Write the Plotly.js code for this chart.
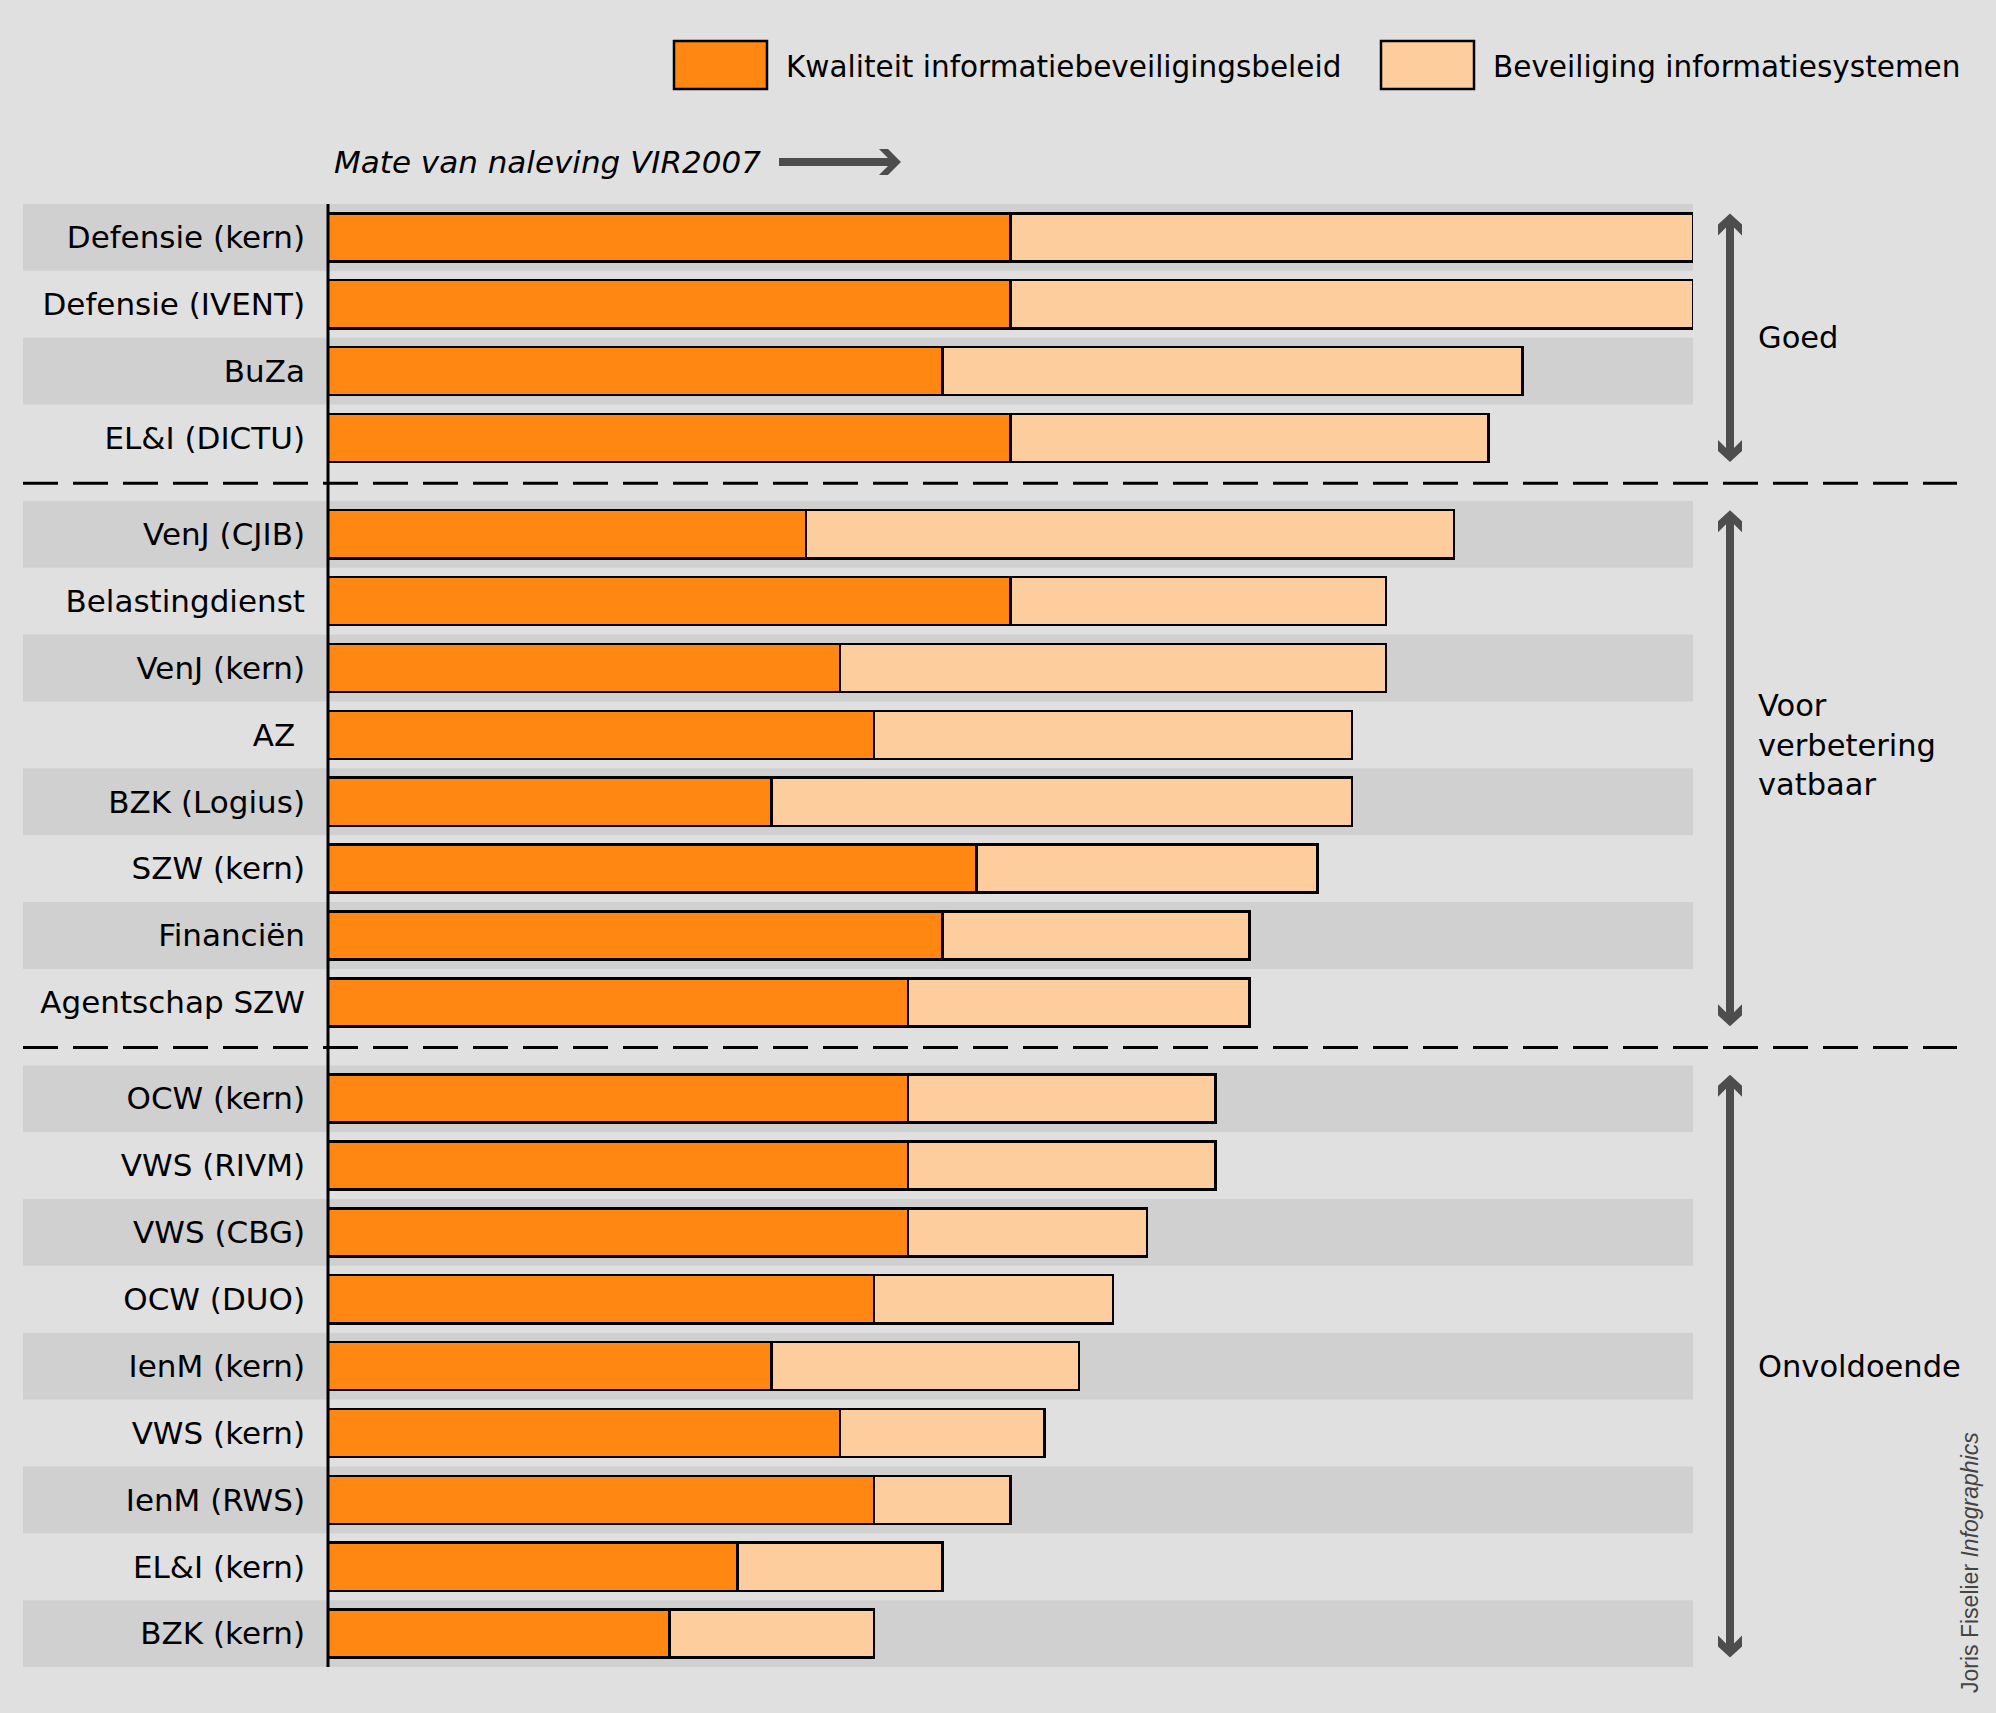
<!DOCTYPE html>
<html><head><meta charset="utf-8">
<script src="https://cdn.plot.ly/plotly-3.0.1.min.js"></script>
<style>html,body{margin:0;padding:0;background:#e0e0e0;}</style>
</head><body><div id="chart" style="width:1996px;height:1713px;"></div>
<script>
// ---- data ----
const organisaties = ['Defensie (kern)','Defensie (IVENT)','BuZa','EL&I (DICTU)',
  'VenJ (CJIB)','Belastingdienst','VenJ (kern)','AZ\u00a0','BZK (Logius)','SZW (kern)','Financiën','Agentschap SZW',
  'OCW (kern)','VWS (RIVM)','VWS (CBG)','OCW (DUO)','IenM (kern)','VWS (kern)','IenM (RWS)','EL&I (kern)','BZK (kern)'];
const kwaliteit   = [20,20,18,20, 14,20,15,16,13,19,18,17, 17,17,17,16,13,15,16,12,10];
const beveiliging = [20,20,17,14, 19,11,16,14,17,10, 9,10,  9, 9, 7, 7, 9, 6, 4, 6, 6];
const oordeel     = [0,0,0,0, 1,1,1,1,1,1,1,1, 2,2,2,2,2,2,2,2,2];
const oordeelLabels = ['Goed','Voor<br>verbetering<br>vatbaar','Onvoldoende'];
const reeksNamen = ['Kwaliteit informatiebeveiligingsbeleid','Beveiliging informatiesystemen'];
const asTitel = 'Mate van naleving VIR2007';
const bron = 'Joris Fiselier <i>Infographics</i>';
const maxScore = 40;

// ---- styling / layout geometry ----
const kleuren = ['#ff8712','#fecd9e'];
const BG = '#e0e0e0', BAND = '#d0d0d0', ARROW = '#4d4d4d';
const FONT = 'DejaVu Sans';
const W = 1996, H = 1713, L = 328, R = 303, T = 204, B = 46;
const pw = W - L - R, ph = H - T - B;
const gapPx = 29.4;
const px2x = p => (p - L) / pw;
const py2y = p => 1 - (p - T) / ph;
const y2py = y => T + (1 - y) * ph;

const nGroups = oordeelLabels.length;
const counts = oordeelLabels.map((_, g) => oordeel.filter(o => o === g).length);
const nRows = organisaties.length;
const gapFrac = gapPx / ph;
const rowFrac = (1 - (nGroups - 1) * gapFrac) / nRows;
const domains = [];
let acc = 0;
for (let g = 0; g < nGroups; g++) {
  const top = 1 - (acc * rowFrac + g * gapFrac);
  domains.push([top - counts[g] * rowFrac, top]);
  acc += counts[g];
}
const axName = g => g === 0 ? 'y' : 'y' + (g + 1);
const axKey = g => g === 0 ? 'yaxis' : 'yaxis' + (g + 1);

// ---- traces ----
const traces = [];
for (let g = 0; g < nGroups; g++) {
  const idx = organisaties.map((_, i) => i).filter(i => oordeel[i] === g);
  [kwaliteit, beveiliging].forEach((serie, s) => {
    traces.push({
      type: 'bar', orientation: 'h', name: reeksNamen[s],
      x: idx.map(i => serie[i]), y: idx.map(i => organisaties[i]),
      xaxis: 'x', yaxis: axName(g), width: 0.72, cliponaxis: false,
      marker: {color: kleuren[s], line: {color: '#000', width: 2.5}},
      showlegend: false, hoverinfo: 'x+y+name'
    });
  });
}

// ---- layout ----
const layout = {
  width: W, height: H, margin: {l: L, r: R, t: T, b: B},
  paper_bgcolor: BG, plot_bgcolor: 'rgba(0,0,0,0)',
  barmode: 'stack', showlegend: false,
  font: {family: FONT, color: '#000'},
  xaxis: {domain: [0, 1], range: [0, maxScore], visible: false, fixedrange: true},
  shapes: [], annotations: []
};
for (let g = 0; g < nGroups; g++) {
  const cats = organisaties.filter((_, i) => oordeel[i] === g);
  layout[axKey(g)] = {
    domain: domains[g], anchor: 'x', type: 'category',
    categoryorder: 'array', categoryarray: cats,
    range: [cats.length - 0.5, -0.5],
    showgrid: false, zeroline: false, showline: false, ticks: '',
    ticklabelstandoff: 22, fixedrange: true,
    tickfont: {family: FONT, size: 31, color: '#000'}
  };
}
// row bands
let gi = 0;
for (let g = 0; g < nGroups; g++) {
  for (let k = 0; k < counts[g]; k++, gi++) {
    if (gi % 2 === 0) {
      layout.shapes.push({type: 'rect', layer: 'below', xref: 'paper', yref: axName(g),
        x0: px2x(23), x1: 1, y0: k - 0.5, y1: k + 0.5, fillcolor: BAND, line: {width: 0}});
    }
  }
}
// dashed separators
for (let g = 0; g < nGroups - 1; g++) {
  const yp = (y2py(domains[g][0]) + y2py(domains[g + 1][1])) / 2 - 3;
  layout.shapes.push({type: 'line', xref: 'paper', yref: 'paper',
    x0: px2x(23), x1: px2x(1957), y0: py2y(yp), y1: py2y(yp),
    line: {color: '#000', width: 3, dash: '35px,15px'}});
}
// value axis line
layout.shapes.push({type: 'line', xref: 'paper', yref: 'paper', x0: 0, x1: 0, y0: 0, y1: 1,
  line: {color: '#000', width: 3}});

function polyPath(pts) {
  return 'M' + pts.map(p => px2x(p[0]).toFixed(5) + ',' + py2y(p[1]).toFixed(5)).join('L') + 'Z';
}
const headV = [[0,0],[12,11],[12,22],[4,14],[4,26],[-4,26],[-4,14],[-12,22],[-12,11]];
// vertical group arrows + labels
const ax = 1730;
for (let g = 0; g < nGroups; g++) {
  const top = y2py(domains[g][1]) + 9.5, bot = y2py(domains[g][0]) - 9.5;
  layout.shapes.push({type: 'line', xref: 'paper', yref: 'paper',
    x0: px2x(ax), x1: px2x(ax), y0: py2y(top + 20), y1: py2y(bot - 20),
    line: {color: ARROW, width: 8}});
  layout.shapes.push({type: 'path', xref: 'paper', yref: 'paper', fillcolor: ARROW, line: {width: 0},
    path: polyPath(headV.map(p => [ax + p[0], top + p[1]]))});
  layout.shapes.push({type: 'path', xref: 'paper', yref: 'paper', fillcolor: ARROW, line: {width: 0},
    path: polyPath(headV.map(p => [ax + p[0], bot - p[1]]))});
  const mid = (domains[g][0] + domains[g][1]) / 2;
  layout.annotations.push({xref: 'paper', yref: 'paper', x: px2x(1756), y: mid,
    xanchor: 'left', yanchor: 'middle', align: 'left', showarrow: false,
    yshift: oordeelLabels[g].includes('<br>') ? 23 : 0,
    text: oordeelLabels[g], font: {family: FONT, size: 30.5, color: '#000'}});
}
// title + horizontal arrow
const ty = 162;
layout.annotations.push({xref: 'paper', yref: 'paper', x: px2x(332), y: py2y(ty),
  xanchor: 'left', yanchor: 'middle', showarrow: false, text: asTitel,
  font: {family: FONT, size: 31, style: 'italic', color: '#000'}});
layout.shapes.push({type: 'line', xref: 'paper', yref: 'paper',
  x0: px2x(779), x1: px2x(885), y0: py2y(ty), y1: py2y(ty), line: {color: ARROW, width: 8}});
const headH = [[0,0],[-13,-13],[-22,-13],[-13,-4],[-24,-4],[-24,4],[-13,4],[-22,13],[-13,13]];
layout.shapes.push({type: 'path', xref: 'paper', yref: 'paper', fillcolor: ARROW, line: {width: 0},
  path: polyPath(headH.map(p => [901 + p[0], ty + p[1]]))});

// legend (custom large swatches)
const legBoxes = [[674, 767], [1381, 1474]];
reeksNamen.forEach((nm, s) => {
  layout.shapes.push({type: 'rect', xref: 'paper', yref: 'paper',
    x0: px2x(legBoxes[s][0]), x1: px2x(legBoxes[s][1]), y0: py2y(89), y1: py2y(41),
    fillcolor: kleuren[s], line: {color: '#000', width: 2.5}});
  layout.annotations.push({xref: 'paper', yref: 'paper', x: px2x(legBoxes[s][1] + 17), y: py2y(67),
    xanchor: 'left', yanchor: 'middle', showarrow: false, text: nm,
    font: {family: FONT, size: 29.5, color: '#000'}});
});
// credit
layout.annotations.push({xref: 'paper', yref: 'paper', x: px2x(1970), y: py2y(1563),
  xanchor: 'center', yanchor: 'middle', showarrow: false, textangle: -90, text: bron,
  font: {family: 'Liberation Sans', size: 23, color: '#444'}});

Plotly.newPlot('chart', traces, layout, {displayModeBar: false, staticPlot: true});
</script></body></html>
